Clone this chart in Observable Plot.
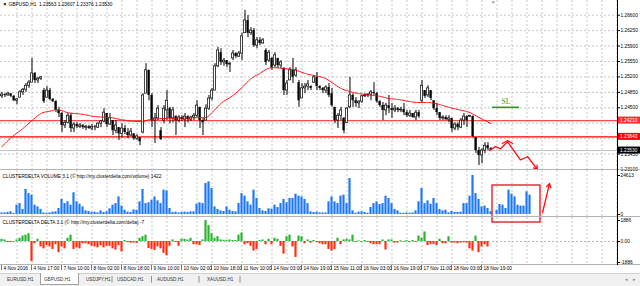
<!DOCTYPE html>
<html>
<head>
<meta charset="utf-8">
<script src="https://cdn.jsdelivr.net/npm/d3@7"></script>
<script src="https://cdn.jsdelivr.net/npm/@observablehq/plot@0.6"></script>
<style>
html,body{margin:0;padding:0;background:#fff}
#chart{position:relative;width:640px;height:286px;overflow:hidden;background:#fff}
#chart svg{position:absolute;left:0;display:block}
.sep{position:absolute;left:0;width:640px;height:1px;background:#b4b4b4}
#axisline{position:absolute;left:617px;top:0;width:1px;height:265px;background:#000;z-index:5}
</style>
</head>
<body>
<div id="chart"></div>
<script>
const FONT = "Liberation Sans, Arial, sans-serif";

// ---------- price (H1 candles) ----------
const opens = [
1.2476,1.2480,1.2478,1.2482,1.2476,1.2466,1.2473,1.2485,1.2491,1.2500,
1.2507,1.2528,1.2512,1.2516,1.2489,1.2473,1.2489,1.2469,1.2464,1.2444,
1.2437,1.2410,1.2416,1.2432,1.2403,1.2412,1.2407,1.2410,1.2405,1.2407,
1.2403,1.2407,1.2405,1.2414,1.2419,1.2437,1.2412,1.2421,1.2398,1.2405,
1.2391,1.2403,1.2394,1.2387,1.2391,1.2380,1.2382,1.2394,1.2482,1.2535,
1.2478,1.2421,1.2426,1.2398,1.2421,1.2444,1.2448,1.2426,1.2430,1.2421,
1.2428,1.2423,1.2430,1.2423,1.2428,1.2432,1.2451,1.2421,1.2421,1.2448,
1.2471,1.2489,1.2544,1.2575,1.2553,1.2557,1.2548,1.2562,1.2573,1.2566,
1.2573,1.2619,1.2648,1.2619,1.2625,1.2591,1.2603,1.2596,1.2580,1.2557,
1.2562,1.2546,1.2562,1.2546,1.2539,1.2489,1.2512,1.2535,1.2523,1.2507,
1.2471,1.2494,1.2498,1.2498,1.2507,1.2519,1.2498,1.2494,1.2489,1.2496,
1.2482,1.2451,1.2421,1.2432,1.2426,1.2416,1.2451,1.2478,1.2466,1.2460,
1.2464,1.2476,1.2478,1.2480,1.2485,1.2482,1.2464,1.2455,1.2444,1.2455,
1.2448,1.2444,1.2448,1.2444,1.2446,1.2439,1.2432,1.2437,1.2428,1.2439,
1.2466,1.2489,1.2478,1.2489,1.2466,1.2448,1.2439,1.2426,1.2428,1.2423,
1.2426,1.2403,1.2412,1.2405,1.2421,1.2430,1.2430,1.2430,1.2382,1.2353,
1.2342,1.2353,1.2364,1.2357];
const highs = [
1.2485,1.2482,1.2485,1.2482,1.2478,1.2471,1.2489,1.2494,1.2505,1.2512,
1.2562,1.2530,1.2519,1.2521,1.2494,1.2498,1.2494,1.2471,1.2466,1.2451,
1.2439,1.2421,1.2437,1.2437,1.2416,1.2416,1.2414,1.2412,1.2410,1.2410,
1.2412,1.2410,1.2416,1.2421,1.2448,1.2437,1.2437,1.2421,1.2421,1.2405,
1.2414,1.2410,1.2403,1.2403,1.2391,1.2389,1.2382,1.2482,1.2550,1.2535,
1.2482,1.2437,1.2455,1.2405,1.2455,1.2489,1.2451,1.2451,1.2432,1.2432,
1.2432,1.2437,1.2432,1.2430,1.2437,1.2466,1.2451,1.2426,1.2457,1.2478,
1.2494,1.2550,1.2587,1.2584,1.2562,1.2557,1.2553,1.2580,1.2575,1.2578,
1.2619,1.2671,1.2659,1.2632,1.2630,1.2609,1.2609,1.2607,1.2584,1.2580,
1.2564,1.2575,1.2562,1.2557,1.2541,1.2512,1.2541,1.2562,1.2541,1.2512,
1.2505,1.2505,1.2512,1.2500,1.2523,1.2530,1.2500,1.2496,1.2500,1.2505,
1.2494,1.2451,1.2437,1.2451,1.2428,1.2451,1.2519,1.2482,1.2473,1.2466,
1.2478,1.2482,1.2482,1.2489,1.2507,1.2485,1.2466,1.2462,1.2460,1.2478,
1.2460,1.2455,1.2451,1.2451,1.2460,1.2444,1.2444,1.2437,1.2444,1.2444,
1.2512,1.2489,1.2500,1.2489,1.2466,1.2460,1.2439,1.2432,1.2432,1.2432,
1.2426,1.2416,1.2416,1.2426,1.2437,1.2432,1.2432,1.2432,1.2382,1.2360,
1.2357,1.2371,1.2371,1.2360];
const lows = [
1.2471,1.2473,1.2476,1.2473,1.2464,1.2457,1.2473,1.2478,1.2485,1.2494,
1.2507,1.2505,1.2505,1.2512,1.2460,1.2473,1.2466,1.2462,1.2439,1.2428,
1.2394,1.2403,1.2414,1.2394,1.2394,1.2403,1.2403,1.2401,1.2398,1.2401,
1.2398,1.2398,1.2403,1.2405,1.2416,1.2405,1.2410,1.2387,1.2391,1.2376,
1.2382,1.2389,1.2380,1.2385,1.2376,1.2376,1.2364,1.2391,1.2482,1.2466,
1.2405,1.2369,1.2421,1.2376,1.2414,1.2421,1.2414,1.2416,1.2387,1.2416,
1.2419,1.2405,1.2416,1.2419,1.2421,1.2428,1.2403,1.2387,1.2421,1.2444,
1.2466,1.2489,1.2541,1.2546,1.2544,1.2541,1.2530,1.2557,1.2562,1.2564,
1.2557,1.2619,1.2609,1.2614,1.2587,1.2584,1.2591,1.2594,1.2546,1.2553,
1.2535,1.2541,1.2539,1.2539,1.2478,1.2478,1.2512,1.2505,1.2519,1.2451,
1.2471,1.2482,1.2489,1.2489,1.2505,1.2489,1.2489,1.2482,1.2482,1.2473,
1.2451,1.2414,1.2403,1.2421,1.2391,1.2414,1.2448,1.2451,1.2451,1.2448,
1.2460,1.2473,1.2473,1.2466,1.2478,1.2460,1.2451,1.2421,1.2432,1.2437,
1.2426,1.2439,1.2439,1.2439,1.2432,1.2428,1.2428,1.2426,1.2421,1.2426,
1.2460,1.2471,1.2473,1.2466,1.2444,1.2432,1.2421,1.2421,1.2421,1.2416,
1.2394,1.2398,1.2398,1.2403,1.2410,1.2405,1.2428,1.2382,1.2346,1.2319,
1.2323,1.2346,1.2353,1.2353];
const closes = [
1.2480,1.2478,1.2482,1.2476,1.2466,1.2469,1.2485,1.2491,1.2500,1.2507,
1.2528,1.2512,1.2516,1.2519,1.2464,1.2489,1.2469,1.2464,1.2444,1.2437,
1.2410,1.2416,1.2432,1.2403,1.2412,1.2407,1.2410,1.2405,1.2407,1.2403,
1.2407,1.2405,1.2414,1.2419,1.2439,1.2412,1.2426,1.2398,1.2410,1.2391,
1.2403,1.2394,1.2387,1.2396,1.2380,1.2385,1.2373,1.2478,1.2535,1.2478,
1.2421,1.2426,1.2448,1.2378,1.2448,1.2466,1.2426,1.2444,1.2421,1.2428,
1.2423,1.2430,1.2423,1.2428,1.2432,1.2455,1.2421,1.2416,1.2448,1.2471,
1.2489,1.2544,1.2580,1.2553,1.2557,1.2548,1.2550,1.2573,1.2566,1.2573,
1.2612,1.2648,1.2619,1.2625,1.2591,1.2603,1.2596,1.2603,1.2553,1.2575,
1.2541,1.2569,1.2546,1.2553,1.2489,1.2505,1.2535,1.2519,1.2535,1.2466,
1.2494,1.2498,1.2503,1.2494,1.2519,1.2498,1.2494,1.2489,1.2496,1.2478,
1.2455,1.2421,1.2432,1.2444,1.2398,1.2448,1.2478,1.2466,1.2460,1.2464,
1.2476,1.2478,1.2480,1.2485,1.2482,1.2464,1.2455,1.2444,1.2455,1.2448,
1.2444,1.2448,1.2444,1.2446,1.2439,1.2432,1.2437,1.2428,1.2439,1.2430,
1.2500,1.2476,1.2494,1.2471,1.2448,1.2439,1.2426,1.2428,1.2423,1.2426,
1.2403,1.2412,1.2405,1.2421,1.2430,1.2421,1.2432,1.2385,1.2353,1.2342,
1.2353,1.2364,1.2357,1.2353];

// moving average (red dotted), read at sample bars
const maBars   = [0,3,7,10,13,17,18,22,27,31,36,40,44,47,49,55,68,70,73,77,80,83,86,88,90,94,98,101,104,108,110,113,117,121,126,129,132,136,139,142,146,149,152,156,159,161,163];
const maValues = [1.2362,1.2382,1.2403,1.2421,1.2437,1.2444,1.2446,1.2439,1.2435,1.2430,1.2428,1.2423,1.2419,1.2419,1.2423,1.2426,1.2428,1.2439,1.2460,1.2478,1.2496,1.2516,1.2528,1.2537,1.2541,1.2539,1.2535,1.2528,1.2523,1.2516,1.2507,1.2494,1.2485,1.2480,1.2476,1.2471,1.2469,1.2464,1.2462,1.2462,1.2457,1.2451,1.2446,1.2439,1.2428,1.2421,1.2414];

const levels = [1.2421, 1.2384];          // red horizontal levels
const lastPrice = 1.2353;                  // current bid line
const priceGrid = [1.2660,1.2625,1.2590,1.2555,1.2520,1.2485,1.2450,1.2415,1.2380,1.2345,1.2310];
const priceAxisTicks = [1.2660,1.2625,1.2590,1.2555,1.2520,1.2485,1.2450,1.2345,1.2310];
const header = "\u25BC GBPUSD,H1  1.23563 1.23607 1.23376 1.23530";

// ---------- ClusterDelta volume & delta ----------
const volumes = [
1000,1000,1300,1700,600,5900,6900,3200,15800,13200,
12200,5900,4800,3200,1000,800,1000,1500,1700,3800,
9500,6900,8000,5900,13700,8000,6500,4800,2300,1900,
1300,1500,1000,2300,1300,1700,3600,5900,6900,11100,
5300,2700,1500,1300,2900,2700,8000,15800,6900,7400,
9000,11100,8600,6900,15400,14900,3800,1300,1500,1000,
1300,1500,1300,1700,1700,6500,7400,6900,19600,20600,
16400,4800,3200,2300,1900,4800,2700,1900,1700,6900,
13200,11600,8000,5900,15400,10100,3800,2300,1900,3600,
3400,5900,4400,6900,9500,7400,10100,10100,12800,11600,
11100,9500,6900,1700,1300,1500,1000,1000,1000,8000,
11100,8000,6900,11600,12200,6900,22700,2300,800,1500,
1700,1300,800,4400,6900,8000,6300,6900,11600,10100,
6900,3200,2300,800,800,1000,800,1000,2300,8000,
16400,6900,8600,6500,10100,6900,3200,2300,2700,1000,
1900,1300,1300,1500,6900,6900,11600,24613,13200,9500,
4800,5300,3800,1700,0,2700,6300,5900,3800,15400,
12800,11100,5900,5300,5300,14300,12200];
const volMax = 24613;
const deltas = [
200,140,-90,-90,-60,140,290,490,570,700,
-1800,-200,200,-490,-660,-370,-490,-715,-290,-1000,
-490,-660,290,570,-715,-570,-660,-200,-200,-290,
-430,-490,-570,-370,-570,-430,-430,-660,-770,-370,
-940,90,-110,-140,-140,-170,290,430,570,-630,
-715,-800,-490,-660,-1060,-1290,-430,140,-90,-430,
200,200,140,290,-290,-290,-370,140,1886,1430,
700,290,430,140,110,110,140,90,90,570,
770,-290,-200,-430,-860,-715,90,140,-290,200,
-290,290,200,-430,-1140,430,570,-490,-1430,490,
430,-200,140,-140,90,-90,-200,-290,-290,-715,
-860,-715,290,-290,140,200,140,570,-90,60,
-60,90,-90,-200,-290,-290,-290,140,-770,140,
140,-140,-140,60,-60,90,-90,90,-90,490,
290,860,-370,-260,-260,-370,200,-200,-200,430,
-140,-140,-200,-140,-110,-140,-660,-860,490,-1000,
-490,-290,-490,0];
const deltaMax = 1886;
const volTitle = "CLUSTERDELTA VOLUME 3.1 (\u00A9 http://my.clusterdelta.com/volume) 1422";
const deltaTitle = "CLUSTERDELTA DELTA 3.1 (\u00A9 http://my.clusterdelta.com/delta) -7";

// ---------- time axis ----------
const timeBars = [0,10,20,30,40,50,60,70,80,90,100,110,120,130,140,150,160];
const timeLabels = ["4 Nov 2016","4 Nov 17:00","7 Nov 10:00","8 Nov 02:00","8 Nov 18:00","9 Nov 10:00","10 Nov 02:00","10 Nov 18:00","11 Nov 10:00","14 Nov 03:00","14 Nov 19:00","15 Nov 11:00","16 Nov 03:00","16 Nov 19:00","17 Nov 11:00","18 Nov 03:00","18 Nov 19:00"];
const tabs = ["EURUSD,H1","GBPUSD,H1","USDJPY,H1","USDCAD,H1","AUDUSD,H1","XAUUSD,H1"];

// ---------- hand-drawn annotations (bar index / value) ----------
const zigBars = [162.5,164.5,166.2,168.5,172.8,175.2];
const zigPrices = [1.2353,1.2362,1.2357,1.2373,1.2332,1.2339];
const zigArrow = {x1: 175.2, y1: 1.2339, x2: 178.5, y2: 1.2310};
const caretBars = [166.8,168.5,170.2];
const caretPrices = [1.2369,1.2376,1.2369];
const slLine = {price: 1.2451, from: 163.5, to: 172.5};
const slText = {bar: 168, price: 1.2464, text: "SL"};
const shiftMark = {bar: 163.7, price: 1.2689};
const volBox = {x1: 163.5, x2: 179.5, y1: 18300, y2: -5050};
const volArrow = {x1: 180.2, y1: 1260, x2: 182.5, y2: 19560};

// ---------- shared ----------
const xDomain = [-0.5, 205.1667];
const gridBars = d3.range(5, 206, 5);
const GRID = "#c6c6c6";
const baseStyle = {background: "transparent", fontFamily: FONT, fontSize: "4.8px", color: "#000", overflow: "visible"};
const root = document.getElementById("chart");

// ---------- price panel ----------
const bars = d3.range(opens.length);
const bullBars = bars.filter(i => closes[i] >= opens[i]);
const bearBars = bars.filter(i => closes[i] < opens[i]);
const priceChart = Plot.plot({
  width: 640, height: 170,
  marginLeft: 0, marginRight: 23, marginTop: 0, marginBottom: 0,
  style: baseStyle,
  x: {domain: xDomain, axis: null},
  y: {domain: [1.23078, 1.26933], axis: "right", ticks: priceAxisTicks, tickFormat: d3.format(".5f"), tickSize: 2, tickPadding: 1, label: null},
  marks: [
    Plot.ruleX(gridBars, {stroke: GRID, strokeDasharray: "2,2"}),
    Plot.ruleY(priceGrid, {stroke: GRID, strokeDasharray: "2,2"}),
    Plot.ruleY([lastPrice], {stroke: "#c0c0c0", strokeWidth: 1}),
    Plot.ruleY([levels[0]], {stroke: "#ff4a4a", strokeWidth: 1.2}),
    Plot.ruleY([levels[1]], {stroke: "#ff0000", strokeWidth: 1.4}),
    Plot.ruleX(bars, {x: i => i, y1: i => lows[i], y2: i => highs[i], stroke: "#000", strokeWidth: 1}),
    Plot.rect(bearBars, {x1: i => i - 0.36, x2: i => i + 0.36, y1: i => opens[i], y2: i => closes[i], fill: "#000"}),
    Plot.rect(bullBars, {x1: i => i - 0.36, x2: i => i + 0.36, y1: i => opens[i], y2: i => closes[i], fill: "#fff", stroke: "#000", strokeWidth: 0.7}),
    Plot.line(d3.range(maBars.length), {x: k => maBars[k], y: k => maValues[k], stroke: "#ff0000", strokeWidth: 1, strokeDasharray: "1.5,1", curve: "monotone-x"}),
    Plot.ruleY([slLine.price], {x1: slLine.from, x2: slLine.to, stroke: "#1f9a1f", strokeWidth: 1.6}),
    Plot.text([slText], {x: "bar", y: "price", text: "text", fill: "#1f9a1f", fontSize: 7.5, fontFamily: "Liberation Serif, serif"}),
    Plot.line(d3.range(zigBars.length), {x: k => zigBars[k], y: k => zigPrices[k], stroke: "#ff1010", strokeWidth: 1.3}),
    Plot.line(d3.range(caretBars.length), {x: k => caretBars[k], y: k => caretPrices[k], stroke: "#ff1010", strokeWidth: 1.2}),
    Plot.arrow([zigArrow], {x1: "x1", y1: "y1", x2: "x2", y2: "y2", stroke: "#ff1010", strokeWidth: 1.3, headLength: 5}),
    Plot.text([shiftMark], {x: "bar", y: "price", text: () => "\u25BC", fill: "#9a9a9a", fontSize: 5}),
    Plot.text([header], {frameAnchor: "top-left", text: d => d, dx: 2, dy: 2, lineAnchor: "top", textAnchor: "start", fontSize: 4.8})
  ]
});
priceChart.style.top = "0px";
root.appendChild(priceChart);
{
  const ys = priceChart.scale("y");
  const svg = d3.select(priceChart);
  const fmt = d3.format(".5f");
  [[levels[0], "#ff2a2a"], [levels[1], "#ff0000"], [lastPrice, "#000"]].forEach(([v, c]) => {
    const y = ys.apply(v);
    svg.append("rect").attr("x", 618).attr("y", y - 3.5).attr("width", 22).attr("height", 7).attr("fill", c);
    svg.append("text").attr("x", 620).attr("y", y).attr("dy", "0.35em").attr("fill", "#fff")
      .attr("text-anchor", "start").attr("font-size", 4.8).attr("font-family", FONT).text(fmt(v));
  });
}

// ---------- volume panel ----------
const vBars = d3.range(volumes.length);
const volChart = Plot.plot({
  width: 640, height: 47,
  marginLeft: 0, marginRight: 23, marginTop: 0, marginBottom: 0,
  style: baseStyle,
  x: {domain: xDomain, axis: null},
  y: {domain: [0, volMax], range: [44, 5], axis: "right", ticks: [0, volMax], tickFormat: d => String(d), tickSize: 2, tickPadding: 1, label: null},
  marks: [
    Plot.ruleX(gridBars, {stroke: GRID, strokeDasharray: "2,2"}),
    Plot.rect(vBars, {x1: i => i - 0.36, x2: i => i + 0.36, y1: 0, y2: i => volumes[i], fill: "#1e78f5"}),
    Plot.text([volTitle], {frameAnchor: "top-left", text: d => d, dx: 2, dy: 4, lineAnchor: "top", textAnchor: "start", fontSize: 4.8}),
    Plot.rect([volBox], {x1: "x1", x2: "x2", y1: "y1", y2: "y2", fill: "none", stroke: "#e0101a", strokeWidth: 1.3}),
    Plot.arrow([volArrow], {x1: "x1", y1: "y1", x2: "x2", y2: "y2", stroke: "#ff1010", strokeWidth: 1.3, headLength: 5})
  ]
});
volChart.style.top = "170px";
volChart.style.zIndex = "3";
root.appendChild(volChart);

// ---------- delta panel + time axis ----------
const dBars = d3.range(deltas.length);
const deltaChart = Plot.plot({
  width: 640, height: 56,
  marginLeft: 0, marginRight: 23, marginTop: 0, marginBottom: 9,
  style: baseStyle,
  x: {domain: xDomain, axis: null},
  y: {domain: [-deltaMax, deltaMax], range: [45, 3], axis: "right", ticks: [deltaMax, 0, -deltaMax], tickFormat: d => d === 0 ? "0.00" : String(d), tickSize: 2, tickPadding: 1, label: null},
  marks: [
    Plot.ruleX(gridBars, {stroke: GRID, strokeDasharray: "2,2"}),
    Plot.ruleY([0], {stroke: "#b8b8b8", strokeDasharray: "2,2"}),
    Plot.rect(dBars.filter(i => deltas[i] > 0), {x1: i => i - 0.36, x2: i => i + 0.36, y1: 0, y2: i => deltas[i], fill: "#28b428"}),
    Plot.rect(dBars.filter(i => deltas[i] < 0), {x1: i => i - 0.36, x2: i => i + 0.36, y1: 0, y2: i => deltas[i], fill: "#ff2d10"}),
    Plot.text([deltaTitle], {frameAnchor: "top-left", text: d => d, dx: 2, dy: 3, lineAnchor: "top", textAnchor: "start", fontSize: 4.8}),
    Plot.text(timeBars, {x: d => d, text: (d, k) => timeLabels[k], frameAnchor: "bottom", lineAnchor: "top", textAnchor: "start", dx: 1.5, dy: 2.5, fontSize: 4.8})
  ]
});
deltaChart.style.top = "217px";
root.appendChild(deltaChart);
{
  const xs = deltaChart.scale("x");
  const svg = d3.select(deltaChart);
  timeBars.forEach(b => {
    const x = Math.round(xs.apply(b)) + 0.5;
    svg.append("line").attr("x1", x).attr("x2", x).attr("y1", 47).attr("y2", 53).attr("stroke", "#555").attr("stroke-width", 0.8);
  });
}

// ---------- separators, axis line, tab bar ----------
[169, 216, 264].forEach(t => {
  const d = document.createElement("div");
  d.className = "sep"; d.style.top = t + "px"; d.style.zIndex = 4;
  root.appendChild(d);
});
const al = document.createElement("div"); al.id = "axisline"; root.appendChild(al);

const tabSvg = d3.create("svg").attr("width", 640).attr("height", 13).style("top", "273px").style("z-index", 6);
tabSvg.append("rect").attr("width", 640).attr("height", 13).attr("fill", "#f0f0f0");
tabSvg.append("line").attr("x1", 0).attr("x2", 640).attr("y1", 0.5).attr("y2", 0.5).attr("stroke", "#d0d0d0");
tabSvg.append("rect").attr("x", 40.5).attr("y", -1).attr("width", 38).attr("height", 12.5).attr("fill", "#fff").attr("stroke", "#a0a0a0");
const tabX = [7, 44, 86, 117, 157, 207];
tabs.forEach((t, k) => tabSvg.append("text").attr("x", tabX[k]).attr("y", 8).attr("font-size", 4.6).attr("font-family", FONT).attr("fill", "#333").text(t));
[112, 151.5, 199, 240].forEach(x => tabSvg.append("line").attr("x1", x).attr("x2", x).attr("y1", 3).attr("y2", 9.5).attr("stroke", "#777").attr("stroke-width", 0.8));
tabSvg.append("text").attr("x", 625).attr("y", 8).attr("font-size", 4.5).attr("fill", "#888").text("\u25C2");
tabSvg.append("text").attr("x", 633).attr("y", 8).attr("font-size", 4.5).attr("fill", "#888").text("\u25B8");
root.appendChild(tabSvg.node());
</script>
</body>
</html>
